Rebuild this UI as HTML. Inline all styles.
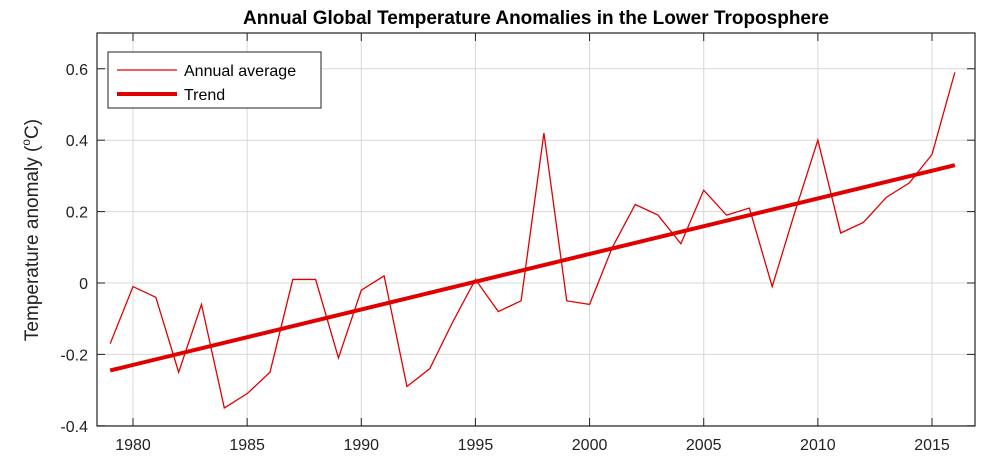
<!DOCTYPE html>
<html><head><meta charset="utf-8"><style>
html,body{margin:0;padding:0;background:#fff;}
svg text{font-family:"Liberation Sans",Arial,sans-serif;}
</style></head><body>
<svg id="chart" width="1000" height="468" xmlns="http://www.w3.org/2000/svg">
<rect x="0" y="0" width="1000" height="468" fill="#fff"/>
<text x="536" y="24" text-anchor="middle" font-size="19" font-weight="bold" fill="#000">Annual Global Temperature Anomalies in the Lower Troposphere</text>
<g id="grid"></g>
<g id="ticks"></g>
<g id="series"></g>
<rect x="97" y="33" width="878" height="393" fill="none" stroke="#222" stroke-width="1.2"/>
<text transform="translate(38,230) rotate(-90)" text-anchor="middle" font-size="19" fill="#222">Temperature anomaly (<tspan font-size="12" dy="-8">o</tspan><tspan dy="8">C)</tspan></text>
<g>
<rect x="108" y="52" width="213" height="56" fill="#fff" stroke="#222" stroke-width="1"/>
<g>
<line x1="117" y1="70" x2="177" y2="70" stroke="#e00000" stroke-width="1.2"/>
<text x="184" y="76" font-size="16" fill="#000">Annual average</text></g>
<g>
<line x1="117" y1="94" x2="177" y2="94" stroke="#e00000" stroke-width="4"/>
<text x="184" y="100" font-size="16" fill="#000">Trend</text></g>
</g>
</svg>
<script>
const years=[1979,1980,1981,1982,1983,1984,1985,1986,1987,1988,1989,1990,1991,1992,1993,1994,1995,1996,1997,1998,1999,2000,2001,2002,2003,2004,2005,2006,2007,2008,2009,2010,2011,2012,2013,2014,2015,2016];
const anomalies=[-0.17,-0.01,-0.04,-0.25,-0.06,-0.35,-0.31,-0.25,0.01,0.01,-0.21,-0.02,0.02,-0.29,-0.24,-0.11,0.01,-0.08,-0.05,0.42,-0.05,-0.06,0.10,0.22,0.19,0.11,0.26,0.19,0.21,-0.01,0.20,0.40,0.14,0.17,0.24,0.28,0.36,0.59];
const trendYears=[1979,2016];
const trendValues=[-0.245,0.33];
const xTicks=[1980,1985,1990,1995,2000,2005,2010,2015];
const yTicks=[-0.4,-0.2,0,0.2,0.4,0.6];
const yTickLabels=["-0.4","-0.2","0","0.2","0.4","0.6"];
const NS="http://www.w3.org/2000/svg";
const X=y=>133+(y-1980)*(799/35);
const Y=v=>283-v*(357/1.0);
function mk(tag,attrs,parent){const e=document.createElementNS(NS,tag);for(const k in attrs)e.setAttribute(k,attrs[k]);parent.appendChild(e);return e;}
const grid=document.getElementById('grid'),ticks=document.getElementById('ticks'),series=document.getElementById('series');
xTicks.forEach(t=>{
 const g=mk('line',{x1:X(t),x2:X(t),y1:33,y2:426,stroke:'#d8d8d8','stroke-width':1},grid);
 
 
 mk('line',{x1:X(t),x2:X(t),y1:426,y2:418,stroke:'#222'},ticks);
 mk('line',{x1:X(t),x2:X(t),y1:33,y2:41,stroke:'#222'},ticks);
 const l=mk('text',{x:X(t),y:450,'text-anchor':'middle','font-size':16,fill:'#222'},ticks);
 l.textContent=t;
 
 
});
yTicks.forEach((t,i)=>{
 const g=mk('line',{x1:97,x2:975,y1:Y(t),y2:Y(t),stroke:'#d8d8d8','stroke-width':1},grid);
 
 
 mk('line',{x1:97,x2:105,y1:Y(t),y2:Y(t),stroke:'#222'},ticks);
 mk('line',{x1:967,x2:975,y1:Y(t),y2:Y(t),stroke:'#222'},ticks);
 const l=mk('text',{x:88,y:Y(t)+6,'text-anchor':'end','font-size':16,fill:'#222'},ticks);
 l.textContent=yTickLabels[i];
 
 
});
const a=mk('polyline',{points:years.map((y,i)=>X(y)+','+Y(anomalies[i])).join(' '),fill:'none',stroke:'#e00000','stroke-width':1.3},series);


const tr=mk('polyline',{points:trendYears.map((y,i)=>X(y)+','+Y(trendValues[i])).join(' '),fill:'none',stroke:'#e00000','stroke-width':4},series);


</script>
</body></html>
